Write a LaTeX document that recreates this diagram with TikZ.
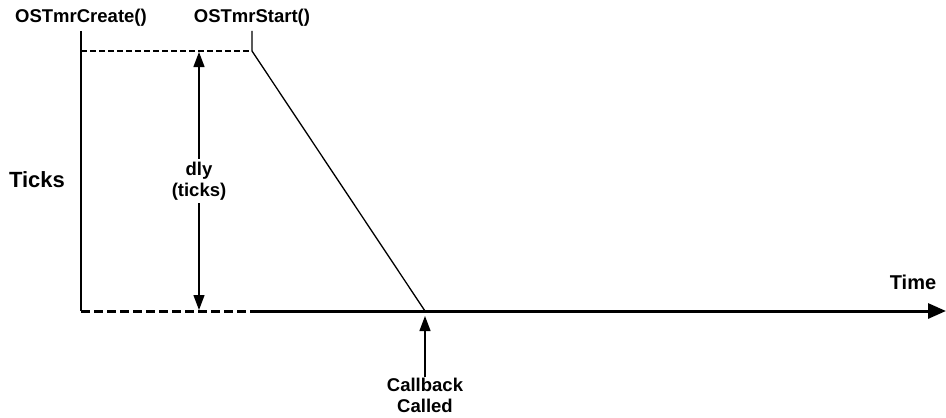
\documentclass[tikz,border=0pt]{standalone}
\usepackage{fontspec}
\setmainfont{Liberation Sans}
\usetikzlibrary{arrows.meta}
\begin{document}
\begin{tikzpicture}[x=1pt,y=-1pt,
  lbl/.style={font=\fontsize{18.5}{21}\selectfont\bfseries,align=center,inner sep=1pt},
  thinline/.style={line width=1.3pt},
  tip/.style={-{Triangle[length=15pt,width=11pt]}},
  axis/.style={line width=3pt}]
 \useasboundingbox (0,0) rectangle (946,418);
 % labels
 \node[lbl] (create) at (81,18) {OSTmrCreate()};
 \node[lbl] (start) at (252,18) {OSTmrStart()};
 \node[lbl,font=\fontsize{22}{26}\selectfont\bfseries] (ticks) at (37,180) {Ticks};
 \node[lbl,font=\fontsize{20}{24}\selectfont\bfseries] (time) at (913,282) {Time};
 \node[lbl,inner sep=3pt] (dly) at (199,181) {dly\\(ticks)};
 \node[lbl,anchor=north] (cb) at (425,377) {Callback\\Called};
 % points on the curve
 \coordinate (o) at (81,311);
 \coordinate (s) at (252,311);
 \coordinate (top) at (252,51);
 \coordinate (hit) at (425,311);
 \coordinate (end) at (946,311);
 % ticks line
 \draw[thinline] (create.south) ++(0,3) |- (o);
 \draw[thinline] (start.south) ++(0,3) -- (top) -- (hit);
 \draw[thinline,dash pattern=on 6pt off 3pt] (81,51) -- (top);
 % dly arrows
 \draw[thinline,tip] (dly.north) -- (199,52);
 \draw[thinline,tip] (dly.south) -- (199,310);
 % time axis
 \draw[axis,dash pattern=on 9pt off 4pt] (o) -- (s);
 \draw[axis,-{Triangle[length=18pt,width=15pt]}] (s) -- (end);
 % callback
 \draw[thinline,tip] (cb.north) -- (425,316);
\end{tikzpicture}
\end{document}
